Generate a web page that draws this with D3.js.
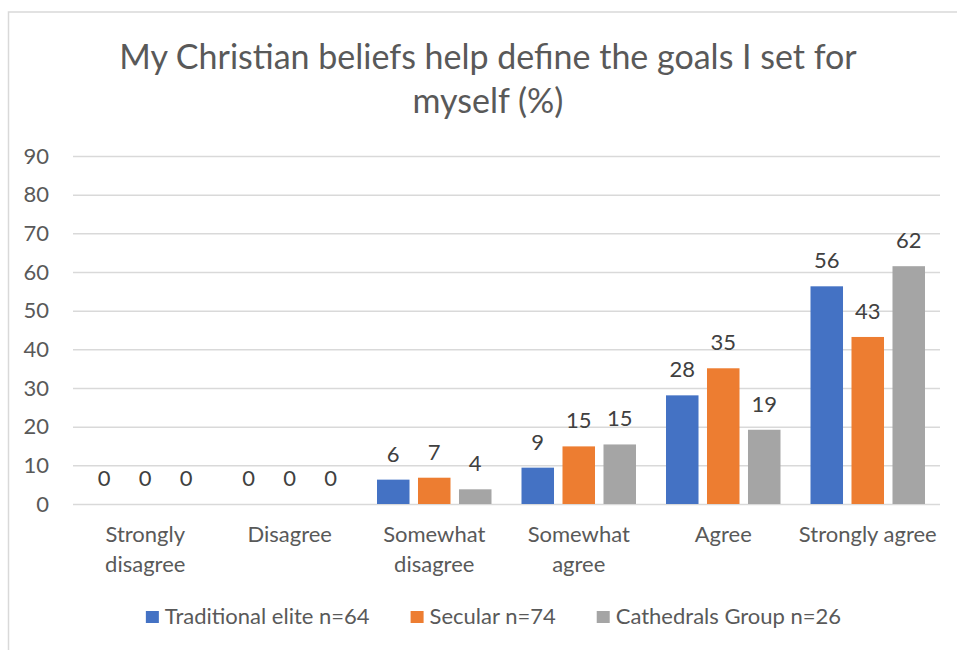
<!DOCTYPE html>
<html>
<head>
<meta charset="utf-8">
<script src="https://cdn.jsdelivr.net/npm/d3@7"></script>
<style>
  html, body { margin: 0; padding: 0; background: #ffffff; }
  svg { display: block; }
  text { font-family: Lato, "Open Sans", sans-serif; }
</style>
</head>
<body>
<svg id="chart" width="957" height="650"></svg>
<script>
// Survey responses (%), one array per respondent group
const categories = [["Strongly", "disagree"], ["Disagree"], ["Somewhat", "disagree"], ["Somewhat", "agree"], ["Agree"], ["Strongly agree"]];
const seriesNames = ["Traditional elite n=64", "Secular n=74", "Cathedrals Group n=26"];
const traditionalElite = [0, 0, 6.3, 9.4, 28.1, 56.3];
const secular = [0, 0, 6.8, 14.9, 35.1, 43.2];
const cathedralsGroup = [0, 0, 3.8, 15.4, 19.2, 61.5];
const yTicks = [0, 10, 20, 30, 40, 50, 60, 70, 80, 90];
const titleLines = ["My Christian beliefs help define the goals I set for", "myself (%)"];

const colors = ["#4472c4", "#ed7d31", "#a5a5a5"];
const seriesValues = [traditionalElite, secular, cathedralsGroup];
const catKeys = categories.map(c => c.join(" "));

const svg = d3.select("#chart");
const W = 957, H = 650;
const plot = { left: 73, right: 940, top: 156, bottom: 504 };
const labelSize = "22px";

svg.append("rect").attr("width", W).attr("height", H).attr("fill", "#ffffff");

// chart frame (light border on top and left)
svg.append("path")
  .attr("d", `M8.5,${H} L8.5,12 L${W},12`)
  .attr("fill", "none")
  .attr("stroke", "#d9d9d9")
  .attr("stroke-width", 1.5);

// title
const title = svg.append("text")
  .attr("text-anchor", "middle")
  .attr("fill", "#595959")
  .style("font-size", "34px");
title.selectAll("tspan").data(titleLines).join("tspan")
  .attr("x", 488)
  .attr("y", (d, i) => 69 + i * 44)
  .text(d => d);

const y = d3.scaleLinear().domain([0, 90]).range([plot.bottom, plot.top]);
const x0 = d3.scaleBand().domain(catKeys).range([plot.left, plot.right])
  .paddingInner(0.2076).paddingOuter(0.1038);
const x1 = d3.scaleBand().domain(d3.range(seriesNames.length)).range([0, x0.bandwidth()])
  .paddingInner(0.207).paddingOuter(0);

// gridlines + y tick labels
const yAxis = d3.axisLeft(y).tickValues(yTicks).tickSize(-(plot.right - plot.left)).tickPadding(24);
const gy = svg.append("g").attr("transform", `translate(${plot.left},0)`).call(yAxis);
gy.select(".domain").remove();
gy.selectAll(".tick line").attr("stroke", "#d9d9d9").attr("stroke-width", 1.5);
gy.selectAll(".tick text")
  .attr("fill", "#595959")
  .style("font-size", labelSize)
  .style("font-family", "Lato, 'Open Sans', sans-serif");

// bars
const groups = svg.append("g").selectAll("g")
  .data(catKeys)
  .join("g")
  .attr("transform", d => `translate(${x0(d)},0)`);

const cells = groups.selectAll("g.cell")
  .data((d, ci) => seriesValues.map((vals, si) => ({ si, v: vals[ci] })))
  .join("g").attr("class", "cell");

cells.append("rect")
  .attr("x", d => x1(d.si))
  .attr("width", x1.bandwidth())
  .attr("y", d => y(d.v))
  .attr("height", d => y(0) - y(d.v))
  .attr("fill", d => colors[d.si]);

cells.append("text")
  .attr("x", d => x1(d.si) + x1.bandwidth() / 2)
  .attr("y", d => y(d.v) - 18)
  .attr("text-anchor", "middle")
  .attr("fill", "#404040")
  .style("font-size", labelSize)
  .text(d => d3.format(".0f")(d.v));

// category labels
const xl = svg.append("g").selectAll("text")
  .data(categories)
  .join("text")
  .attr("text-anchor", "middle")
  .attr("fill", "#595959")
  .style("font-size", labelSize);
xl.selectAll("tspan")
  .data((d, i) => d.map(line => ({ line, i })))
  .join("tspan")
  .attr("x", d => x0(catKeys[d.i]) + x0.bandwidth() / 2)
  .attr("y", (d, j) => 542 + j * 29.5)
  .text(d => d.line);

// legend
const legend = svg.append("g");
const items = legend.selectAll("g").data(seriesNames).join("g");
items.append("rect")
  .attr("width", 13).attr("height", 12)
  .attr("y", 611)
  .attr("fill", (d, i) => colors[i]);
items.append("text")
  .attr("x", 19).attr("y", 624)
  .attr("fill", "#595959")
  .style("font-size", labelSize)
  .text(d => d);
const widths = [];
items.each(function() { widths.push(19 + this.querySelector("text").getComputedTextLength()); });
const totalW = d3.sum(widths) + 41 * (widths.length - 1);
let cursor = 493.5 - totalW / 2;
items.attr("transform", (d, i) => {
  const t = `translate(${cursor},0)`;
  cursor += widths[i] + 41;
  return t;
});
</script>
</body>
</html>
